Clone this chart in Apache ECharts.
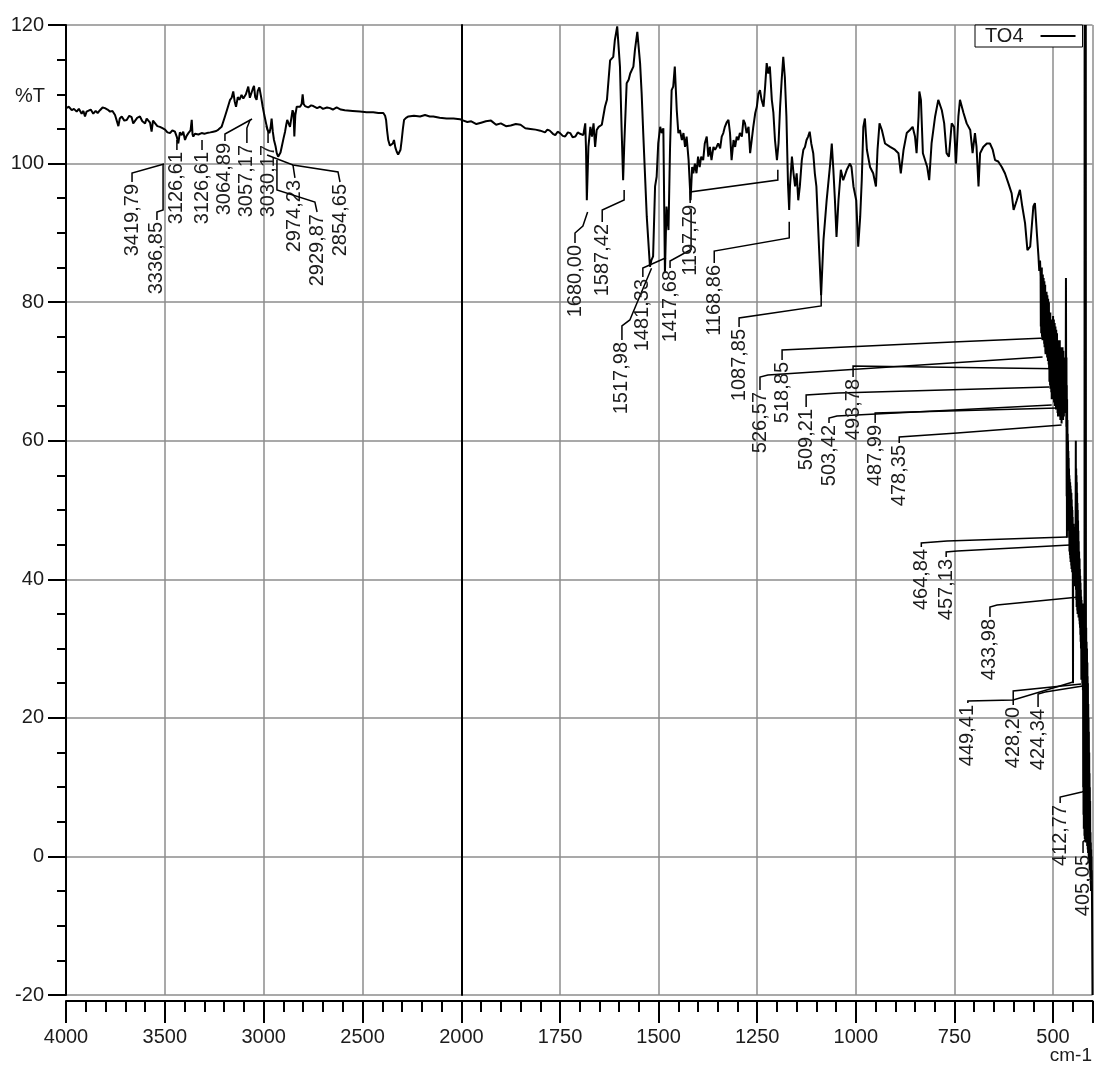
<!DOCTYPE html>
<html><head><meta charset="utf-8">
<script src="https://cdn.jsdelivr.net/npm/echarts@6/dist/echarts.min.js"></script>
<style>html,body{margin:0;padding:0;background:#fff}#c{width:1096px;height:1066px}</style>
</head><body><div id="c"></div>
<script>
// ---------- DATA ----------
const seriesName = 'TO4';
const yTickLabels = [-20, 0, 20, 40, 60, 80, 100, 120];
const xTicksHigh = [4000, 3500, 3000, 2500, 2000];
const xTicksLow = [1750, 1500, 1250, 1000, 750, 500];

// spectrum 4000 -> 2000 cm-1 : [wavenumber, %T]
const specHigh = [[4000,108.0],[3997,107.9],[3985,108.2],[3971,107.7],[3960,107.9],[3946,107.5],[3935,107.9],[3921,107.2],[3912,107.6],[3904,106.8],[3896,107.5],[3887,107.3],[3875,107.8],[3862,107.2],[3850,107.6],[3840,107.3],[3828,107.7],[3815,108.1],[3803,108.0],[3790,107.8],[3777,107.5],[3765,107.6],[3752,107.0],[3742,106.9],[3735,105.4],[3728,106.5],[3718,106.8],[3705,106.2],[3693,106.3],[3680,106.9],[3668,106.7],[3660,105.8],[3651,106.0],[3640,106.6],[3626,106.8],[3614,106.1],[3600,105.8],[3592,106.5],[3584,106.7],[3575,105.9],[3567,104.6],[3560,106.2],[3550,106.0],[3538,105.4],[3525,105.3],[3512,105.1],[3499,104.9],[3487,104.5],[3474,104.4],[3462,104.8],[3449,104.6],[3440,103.9],[3432,102.9],[3424,104.5],[3415,104.1],[3407,104.6],[3398,103.4],[3390,104.0],[3381,104.4],[3370,104.8],[3364,106.3],[3360,104.2],[3356,103.9],[3348,104.3],[3339,104.1],[3330,104.2],[3314,104.4],[3300,104.3],[3288,104.4],[3270,104.5],[3255,104.6],[3240,104.7],[3229,104.9],[3220,105.1],[3213,105.3],[3205,106.0],[3196,106.8],[3185,107.8],[3170,109.2],[3162,109.5],[3154,110.4],[3147,109.0],[3140,108.2],[3131,109.6],[3123,109.2],[3112,109.9],[3103,109.4],[3090,110.0],[3078,111.1],[3070,109.5],[3061,109.7],[3055,110.8],[3049,111.2],[3043,109.6],[3036,109.2],[3030,110.5],[3022,111.0],[3013,109.6],[3005,108.2],[2997,107.0],[2988,105.8],[2980,104.8],[2971,104.4],[2965,105.2],[2960,106.5],[2954,104.6],[2948,103.4],[2940,102.5],[2934,101.5],[2927,101.0],[2921,100.8],[2915,101.6],[2909,102.4],[2900,103.6],[2892,104.6],[2886,105.6],[2881,106.3],[2874,105.8],[2867,105.3],[2860,106.6],[2854,107.7],[2849,107.3],[2845,103.9],[2840,107.0],[2833,108.2],[2825,108.0],[2816,108.2],[2808,108.6],[2803,110.0],[2798,108.6],[2791,108.3],[2775,108.1],[2760,108.4],[2749,108.3],[2730,108.0],[2715,108.2],[2700,107.9],[2680,108.1],[2665,108.0],[2650,107.8],[2631,108.1],[2610,107.8],[2590,107.7],[2550,107.6],[2513,107.5],[2480,107.4],[2446,107.4],[2420,107.3],[2395,107.3],[2386,106.9],[2381,106.3],[2376,104.8],[2370,103.4],[2362,102.6],[2353,102.4],[2347,102.9],[2341,103.4],[2334,102.3],[2327,101.7],[2320,101.3],[2314,101.2],[2308,102.0],[2302,103.4],[2296,105.0],[2290,106.3],[2280,106.6],[2268,106.8],[2240,106.9],[2209,106.8],[2184,107.0],[2160,106.8],[2142,106.8],[2110,106.6],[2075,106.5],[2040,106.5],[2007,106.4],[2000,106.3]];

// spectrum 2000 -> 400 cm-1 : [wavenumber, %T]
const specLow = [[2000,106.3],[1985,106.0],[1975,106.1],[1962,105.7],[1950,105.9],[1938,106.1],[1925,106.2],[1912,105.6],[1900,105.8],[1887,105.4],[1875,105.5],[1862,105.7],[1850,105.6],[1838,105.1],[1825,105.0],[1812,104.9],[1800,104.75],[1788,104.5],[1782,104.9],[1776,104.75],[1768,104.3],[1762,104.1],[1756,104.6],[1750,104.4],[1743,104.0],[1737,103.9],[1730,104.5],[1724,104.4],[1718,103.8],[1711,103.9],[1705,104.5],[1699,104.3],[1691,104.1],[1686,105.8],[1684,102.0],[1682,94.7],[1678,102.4],[1673,105.3],[1669,103.9],[1665,105.8],[1661,102.4],[1657,104.85],[1652,105.3],[1644,105.6],[1636,108.2],[1631,109.2],[1623,114.9],[1615,115.4],[1611,117.8],[1605,119.8],[1601,119.8],[1598,114.0],[1594,105.3],[1590,97.6],[1587,102.9],[1581,111.6],[1576,112.1],[1572,113.0],[1564,114.0],[1560,116.4],[1554,119.0],[1547,114.5],[1543,110.1],[1539,104.4],[1530,92.3],[1522,85.1],[1518,86.1],[1514,86.6],[1509,96.7],[1505,98.1],[1501,102.9],[1496,105.3],[1492,104.4],[1488,105.1],[1484,84.2],[1480,93.8],[1475,90.4],[1471,102.4],[1467,110.6],[1463,111.1],[1459,114.0],[1454,107.7],[1450,104.4],[1446,104.85],[1441,103.4],[1437,104.4],[1433,102.4],[1429,103.9],[1424,100.5],[1419,94.7],[1415,99.5],[1412,98.6],[1408,100.0],[1404,98.6],[1400,101.0],[1396,99.5],[1392,101.0],[1387,100.5],[1383,102.9],[1378,103.9],[1374,101.0],[1370,102.4],[1366,100.5],[1361,102.4],[1357,102.0],[1353,102.4],[1349,102.9],[1344,102.2],[1340,103.9],[1336,104.4],[1332,105.3],[1327,106.0],[1323,106.3],[1319,104.4],[1315,100.5],[1310,103.4],[1306,102.4],[1302,103.9],[1298,103.4],[1294,104.4],[1289,103.9],[1285,106.3],[1281,105.8],[1277,104.4],[1272,105.3],[1268,101.5],[1264,103.4],[1260,105.3],[1255,107.3],[1251,108.2],[1247,110.1],[1243,110.6],[1239,109.2],[1234,108.2],[1230,111.1],[1226,114.5],[1222,113.0],[1218,114.0],[1213,109.2],[1209,107.3],[1205,103.4],[1200,100.5],[1196,102.9],[1192,108.2],[1188,112.1],[1184,115.4],[1180,112.5],[1176,106.8],[1172,97.1],[1169,93.3],[1167,96.7],[1162,101.0],[1158,98.6],[1154,96.7],[1150,98.6],[1146,94.7],[1142,96.7],[1137,100.5],[1133,102.0],[1129,102.4],[1125,103.4],[1121,103.9],[1117,104.6],[1113,102.9],[1108,101.5],[1104,98.6],[1100,96.7],[1093,87.5],[1088,81.0],[1082,89.0],[1074,94.7],[1065,100.0],[1061,102.9],[1057,99.1],[1053,94.7],[1049,89.4],[1044,94.7],[1038,99.1],[1032,97.6],[1023,99.1],[1015,100.0],[1011,99.5],[1006,96.7],[999,94.7],[994,88.0],[989,92.3],[985,97.6],[981,105.3],[977,106.5],[972,102.0],[964,99.5],[956,98.6],[949,96.7],[945,102.0],[940,105.8],[934,104.85],[926,102.9],[913,102.4],[901,102.0],[892,101.5],[886,98.6],[879,102.0],[871,104.4],[863,104.85],[856,105.3],[850,103.9],[846,101.5],[841,106.8],[839,110.4],[835,109.2],[830,101.5],[825,101.5],[819,99.5],[814,97.6],[808,102.9],[799,106.8],[791,109.2],[782,107.7],[776,105.8],[770,101.5],[764,101.0],[757,105.8],[751,105.3],[746,100.0],[740,106.8],[736,109.2],[727,107.3],[719,105.8],[710,104.85],[704,101.5],[698,104.4],[694,102.4],[689,96.7],[685,101.5],[677,102.4],[668,102.9],[660,102.9],[653,102.0],[647,100.5],[639,100.3],[630,99.5],[622,98.6],[613,97.1],[605,95.7],[600,93.3],[592,94.7],[584,96.2],[578,93.8],[571,91.4],[565,87.5],[558,88.0],[550,93.8],[546,94.3],[541,89.9],[537,86.6],[535,84.5],[533,86.0],[531.5,83.7],
[531,76.5],[530.5,84.5],[530,75.5],[529.5,83.5],[529,76.0],[528.5,85.0],[528,75.0],[527.5,83.0],[527,76.5],[526.6,74.5],[526,84.0],[525.5,75.5],[525,82.5],[524.5,74.5],[524,83.5],[523.5,76.0],[523,82.0],[522.5,74.0],[522,83.0],
[521.5,73.5],[521,81.5],[520.5,74.5],[520,82.5],[519.5,73.0],[518.9,72.5],[518.5,81.0],[518,74.0],[517.5,80.5],[517,72.5],[516.5,81.5],[516,73.5],[515.5,80.0],[515,72.0],[514.5,81.0],[514,73.0],[513.5,79.5],[513,71.5],[512.5,80.5],[512,72.5],[511.5,79.0],[511,71.0],[510.5,80.0],[510,70.5],[509.6,78.5],[509.2,68.5],
[508.8,78.0],[508.4,69.0],[508,77.5],[507.5,68.0],[507,78.5],[506.5,67.5],[506,77.0],[505.5,68.5],[505,76.5],[504.5,67.0],[504,77.5],[503.4,66.0],[503,76.0],[502.5,67.5],[502,77.0],[501.5,66.5],[501,76.0],[500.5,67.5],[500,78.0],[499.5,66.0],[499,76.5],[498.5,67.0],[498,77.5],[497.5,65.5],
[497,76.0],[496.5,66.5],[496,77.0],[495.5,65.0],[495,75.5],[494.5,66.5],[494,76.5],[493.5,65.5],[493,75.0],[492.5,64.5],[492,76.0],[491.5,66.0],[491,74.5],[490.5,64.5],[490,75.5],[489.5,65.0],[489,74.0],[488.5,64.0],[488,73.5],[487.5,63.5],[487,74.5],[486.5,64.5],[486,73.0],[485.5,63.5],[485,74.0],[484.5,64.0],
[484,73.0],[483.5,63.5],[483,74.5],[482.5,64.0],[482,72.5],[481.5,63.0],[481,73.5],[480.5,64.5],[480,72.0],[479.5,63.0],[479,73.0],[478.4,62.5],[478,72.5],[477.5,64.0],[477,71.5],[476.5,63.5],[476,73.5],[475.5,64.0],[475,72.0],[474.5,63.0],[474,73.0],[473.5,64.5],[473,71.0],[472.5,63.5],[472,72.0],[471.5,64.0],[471,70.5],[470.5,65.0],[470,69.0],[469,72.0],[468,66.0],[467.3,83.5],[466.8,70.0],
[466.3,62.0],[466,72.0],[465.5,52.0],[465.2,68.0],[464.8,46.0],[464.4,66.0],[464,49.0],[463.6,63.0],[463.2,48.0],[462.8,61.0],[462.4,49.0],[462,60.0],[461.6,47.5],[461.2,58.5],[460.8,48.0],[460.4,57.5],[460,47.0],[459.6,56.0],[459.2,46.0],
[458.8,55.0],[458.4,44.0],[458,54.5],[457.5,45.5],[457.1,43.5],[456.7,54.0],[456.3,43.0],[455.9,53.5],[455.5,42.5],[455.1,53.0],[454.7,43.0],[454.3,52.0],[453.9,42.0],[453.5,52.5],[453.1,41.5],[452.7,51.5],[452.3,42.0],[451.9,50.5],[451.5,41.0],[451.1,50.0],[450.7,41.5],[450.3,49.0],[449.9,40.0],[449.4,25.0],[449,45.0],[448.6,40.5],[448.2,48.0],[447.8,41.0],[447.4,47.0],[447,40.0],[446.6,46.5],[446.2,39.5],[445.8,47.5],[445.4,40.0],[445,46.0],[444.5,39.0],[444,47.0],[443.5,40.0],[443,45.0],[442.3,60.0],[441.8,38.5],
[441.4,56.0],[441,37.0],[440.6,55.0],[440.2,36.0],[439.8,54.0],[439.4,36.5],[439,52.5],[438.6,35.5],[438.2,51.0],[437.8,35.0],[437.4,50.0],[437,36.0],[436.6,48.5],[436.2,35.0],[435.8,47.0],[435.4,34.5],[435,45.5],[434.5,35.0],[434,44.0],[433.6,37.0],[433.2,34.0],[432.8,43.0],[432.4,33.5],[432,41.5],[431.6,33.0],[431.2,40.5],[430.8,32.0],[430.4,39.5],[430,31.0],[429.6,38.5],[429.2,30.0],[428.8,37.5],[428.2,25.5],[427.8,37.0],[427.4,28.0],[427,36.0],[426.6,26.0],[426.2,35.5],[425.8,25.0],[425.4,34.0],[425,24.5],
[424.6,36.5],[424.3,24.0],[424,35.0],[423.6,10.0],[423.2,34.0],[422.8,6.0],[422.4,33.0],[422,4.0],[421.6,32.0],[421.2,5.0],[420.8,30.0],[420.4,3.0],[420,120.0],[419.5,2.5],[419,120.0],[418.5,3.0],[418,120.0],[417.5,2.0],[417,120.0],[416.5,4.0],[416,33.0],[415.5,2.0],[415,31.0],[414.5,3.0],[414,30.0],[413.5,1.5],[413,28.0],[412.8,9.0],[412.4,26.0],[412,1.0],[411.6,25.0],[411.2,0.5],[410.8,22.0],[410.4,1.0],[410,20.0],[409.6,0.0],[409.2,18.0],[408.8,-1.0],[408.4,15.0],[408,-0.5],[407.6,12.0],[407.2,-2.0],[406.8,10.0],[406.4,-1.5],[406,8.0],[405.6,-3.0],[405.1,3.5],[404.6,-4.0],[404.2,2.0],[403.8,-5.0],[403.4,1.0],[403,-4.5],[402.6,0.0],[402.2,-5.0],[401.8,-2.0],[401.4,-5.0],[401,-9.0],[400.6,-14.0],[400.3,-17.0],[400,-20.0]];

// peak annotations: text, and leader path in [wavenumber, %T] (first point = label top)
const peakLabelsHigh = [
  {text:'3419,79', pts:[[3666,97.34],[3666,98.64],[3504,99.94]]},
  {text:'3336,85', pts:[[3540,91.86],[3540,93.0],[3509,93.3],[3509,99.94]]},
  {text:'3126,61', pts:[[3439,101.96],[3439,103.4]]},
  {text:'3126,61', pts:[[3312,101.96],[3312,103.4]]},
  {text:'3064,89', pts:[[3196,103.26],[3196,104.27],[3059,106.43]]},
  {text:'3057,17', pts:[[3085,102.97],[3085,105.13],[3069,106.29]]},
  {text:'3030,17', pts:[[2978,102.97],[2978,104.7],[2988,105.4]]},
  {text:'2974,23', pts:[[2842,97.92],[2852,99.8]]},
  {text:'2929,87', pts:[[2730,93.01],[2741,94.45],[2933,96.19],[2933,100.5]]},
  {text:'2854,65', pts:[[2614,97.34],[2624,98.78],[2852,99.8],[2983,101.24]]}
];
const peakLabelsLow = [
  {text:'1680,00', pts:[[1712,88.54],[1712,89.98],[1692,90.99],[1680,93.0]]},
  {text:'1587,42', pts:[[1643,91.57],[1643,93.3],[1587.42,94.74],[1587.42,96.19]]},
  {text:'1517,98', pts:[[1593,74.54],[1593,76.56],[1573,77.43],[1517.98,84.9]]},
  {text:'1481,33', pts:[[1540,83.63],[1540,84.93],[1481.33,86.4]]},
  {text:'1417,68', pts:[[1471,84.93],[1471,85.94],[1417.68,87.6],[1417.68,93.5]]},
  {text:'1197,79', pts:[[1420,94.31],[1420,95.9],[1197.79,97.63],[1197.79,99.1]]},
  {text:'1168,86', pts:[[1359,85.65],[1359,87.38],[1168.86,89.26],[1168.86,91.6]]},
  {text:'1087,85', pts:[[1296,76.42],[1296,77.71],[1087.85,79.45],[1087.85,81.3]]},
  {text:'526,57', pts:[[1243,67.32],[1243,69.2],[1223,69.49],[526.57,72.09]]},
  {text:'518,85', pts:[[1187,71.65],[1187,73.1],[754,74.25],[518.85,74.83]]},
  {text:'509,21', pts:[[1126,64.87],[1126,66.6],[1045,66.89],[509.21,67.76]]},
  {text:'503,42', pts:[[1068,62.56],[1068,63.28],[1048,63.57],[503.42,65.16]]},
  {text:'493,78', pts:[[1007,69.2],[1007,70.79],[493.78,70.4]]},
  {text:'487,99', pts:[[951,62.56],[951,64.0],[487.99,64.73]]},
  {text:'478,35', pts:[[890,59.67],[890,60.54],[743,61.12],[478.35,62.27]]},
  {text:'464,84', pts:[[834,44.67],[834,45.24],[769,45.53],[464.84,46.11]]},
  {text:'457,13', pts:[[771,43.22],[771,43.95],[743,44.09],[457.13,44.95]]},
  {text:'433,98', pts:[[660,34.56],[660,36.0],[642,36.29],[433.98,37.45]]},
  {text:'449,41', pts:[[716,22.15],[716,22.44],[601,22.58],[449.41,25.18]]},
  {text:'428,20', pts:[[601,21.86],[601,23.88],[428.20,24.89]]},
  {text:'424,34', pts:[[538,21.57],[538,23.45],[520,23.74],[424.34,24.6]]},
  {text:'412,77', pts:[[482,7.72],[482,8.58],[427,9.3],[412.77,9.6]]},
  {text:'405,05', pts:[[424,0.5],[424,2.09],[405.05,3.1]]}
];

// ---------- CHART ----------
const FONT = '"Liberation Sans", Arial, sans-serif';
const TXT = '#1c1c1c';
const GRIDC = '#8c8c8c';
const lowX = wn => 2000 - wn;   // low-range axis runs 2000 -> 400
const highX = wn => wn;

function labelSeries(xIdx, yIdx, items, xf) {
  return {
    type: 'custom', xAxisIndex: xIdx, yAxisIndex: yIdx, clip: false, silent: true, z: 4,
    data: items.map((it, i) => [xf(it.pts[0][0]), it.pts[0][1], i]),
    encode: {x: 0, y: 1},
    renderItem: function (params, api) {
      const it = items[api.value(2)];
      const pts = it.pts.map(p => api.coord([xf(p[0]), p[1]]));
      const a = pts[0];
      return {
        type: 'group',
        children: [
          {type: 'polyline', shape: {points: pts}, style: {stroke: '#000', lineWidth: 1.5, fill: null}},
          {type: 'text', x: a[0], y: a[1] + 2, rotation: Math.PI / 2,
           style: {text: it.text, align: 'right', verticalAlign: 'middle', textAlign: 'right', textVerticalAlign: 'middle',
                   fontSize: 20, fontFamily: FONT, fill: TXT}}
        ]
      };
    }
  };
}

const tickLine = {color: '#000', width: 2};
const chart = echarts.init(document.getElementById('c'), null, {renderer: 'canvas'});
chart.setOption({
  animation: false,
  backgroundColor: '#fff',
  textStyle: {fontFamily: FONT},
  grid: [
    {left: 66, top: 25, width: 395.4, height: 970, containLabel: false, outerBoundsMode: 'none'},
    {left: 461.4, top: 25, width: 631.1, height: 970, containLabel: false, outerBoundsMode: 'none'}
  ],
  legend: {
    data: [seriesName], left: 975, top: 25, align: 'right', icon: 'rect',
    itemWidth: 35, itemHeight: 2, itemGap: 0,
    padding: [1, 7, 1, 10], borderColor: '#000', borderWidth: 1, backgroundColor: '#fff',
    textStyle: {fontSize: 20, color: TXT, fontFamily: FONT, padding: [0, 12, 0, 0]},
    selectedMode: false
  },
  xAxis: [
    {gridIndex: 0, type: 'value', min: 2000, max: 4000, inverse: true, interval: 500, position: 'bottom', offset: 6,
     axisLine: {show: true, onZero: false, lineStyle: tickLine},
     axisTick: {show: true, length: 22, lineStyle: tickLine},
     minorTick: {show: true, splitNumber: 5, length: 11, lineStyle: tickLine},
     axisLabel: {margin: 26, fontSize: 20, color: TXT, fontFamily: FONT, showMinLabel: true, showMaxLabel: true, hideOverlap: false,
       formatter: v => xTicksHigh.indexOf(v) >= 0 ? String(v) : ''},
     splitLine: {show: true, lineStyle: {color: GRIDC, width: 1.5}}},
    {gridIndex: 1, type: 'value', min: 0, max: 1600, interval: 250, position: 'bottom', offset: 6,
     axisLine: {show: true, onZero: false, lineStyle: tickLine},
     axisTick: {show: true, length: 22, lineStyle: tickLine},
     axisLabel: {margin: 26, fontSize: 20, color: TXT, fontFamily: FONT, hideOverlap: false,
       formatter: v => xTicksLow.indexOf(2000 - v) >= 0 ? String(2000 - v) : ''},
     splitLine: {show: true, lineStyle: {color: GRIDC, width: 1.5}}},
    {gridIndex: 1, type: 'value', min: 0, max: 1600, interval: 50, position: 'bottom', offset: 6,
     axisLine: {show: false, onZero: false},
     axisTick: {show: true, length: 11, lineStyle: tickLine},
     axisLabel: {show: false}, splitLine: {show: false}}
  ],
  yAxis: [
    {gridIndex: 0, type: 'value', min: -20, max: 120, interval: 20, position: 'left',
     axisLine: {show: true, onZero: false, lineStyle: tickLine},
     axisTick: {show: true, length: 18, lineStyle: tickLine},
     minorTick: {show: true, splitNumber: 4, length: 9, lineStyle: tickLine},
     axisLabel: {margin: 22, fontSize: 20, color: TXT, fontFamily: FONT,
       formatter: v => yTickLabels.indexOf(v) >= 0 ? String(v) : ''},
     splitLine: {show: true, lineStyle: {color: GRIDC, width: 1.5}}},
    {gridIndex: 1, type: 'value', min: -20, max: 120, interval: 20, position: 'left',
     axisLine: {show: true, onZero: false, lineStyle: tickLine},
     axisTick: {show: false}, axisLabel: {show: false},
     splitLine: {show: true, lineStyle: {color: GRIDC, width: 1.5}}}
  ],
  graphic: [
    {type: 'text', left: 15, top: 86, style: {text: '%T', fontSize: 20, fontFamily: FONT, fill: TXT}},
    {type: 'text', right: 4, top: 1046, style: {text: 'cm-1', fontSize: 19, fontFamily: FONT, fill: TXT}}
  ],
  series: [
    {name: seriesName, type: 'line', xAxisIndex: 0, yAxisIndex: 0, symbol: 'none', showSymbol: false,
     lineStyle: {color: '#000', width: 2}, itemStyle: {color: '#000'}, z: 3,
     data: specHigh.map(p => [highX(p[0]), p[1]])},
    {name: seriesName, type: 'line', xAxisIndex: 1, yAxisIndex: 1, symbol: 'none', showSymbol: false,
     lineStyle: {color: '#000', width: 2}, itemStyle: {color: '#000'}, z: 3,
     data: specLow.map(p => [lowX(p[0]), p[1]])},
    labelSeries(0, 0, peakLabelsHigh, highX),
    labelSeries(1, 1, peakLabelsLow, lowX)
  ]
});
</script>
</body></html>
